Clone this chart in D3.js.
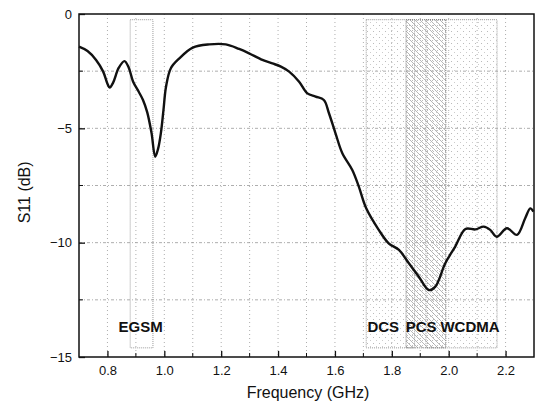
<!DOCTYPE html>
<html>
<head>
<meta charset="utf-8">
<script src="https://cdn.jsdelivr.net/npm/d3@7"></script>
<style>
  body { margin: 0; background: #fff; }
  text { font-family: Arial, "Liberation Sans", sans-serif; }
</style>
</head>
<body>
<div id="chart"></div>
<script>
// measured S11 curve
var freq = [0.70, 0.73, 0.76, 0.785, 0.80, 0.808, 0.82, 0.84, 0.86, 0.875, 0.89, 0.91, 0.925, 0.94, 0.955, 0.968,
  0.978, 0.988, 0.997, 1.006, 1.023, 1.053, 1.10, 1.158, 1.216, 1.263, 1.298, 1.345, 1.38, 1.41, 1.439, 1.474,
  1.503, 1.532, 1.561, 1.579, 1.602, 1.626, 1.661, 1.684, 1.71, 1.754, 1.789, 1.825, 1.86, 1.895, 1.93, 1.953,
  1.988, 2.023, 2.059, 2.094, 2.123, 2.146, 2.169, 2.205, 2.24, 2.269, 2.287, 2.298];
var s11 = [-1.43, -1.62, -2.01, -2.52, -3.05, -3.22, -3.0, -2.35, -2.06, -2.35, -2.95, -3.4, -3.76, -4.3, -5.2, -6.24,
  -5.9, -5.2, -4.2, -3.18, -2.37, -1.94, -1.47, -1.33, -1.33, -1.53, -1.72, -2.01, -2.16, -2.3, -2.52, -2.96,
  -3.47, -3.61, -3.76, -4.34, -5.22, -6.09, -6.82, -7.55, -8.5, -9.44, -10.03, -10.32, -10.9, -11.49, -12.07, -11.92,
  -10.9, -10.17, -9.4, -9.42, -9.3, -9.44, -9.74, -9.37, -9.66, -8.93, -8.5, -8.64];

// frequency bands (GHz)
var bandNames = ["EGSM", "DCS", "WCDMA", "PCS"];
var bandStart = [0.88, 1.71, 1.92, 1.85];
var bandEnd = [0.96, 1.88, 2.17, 1.99];

var xTicks = [0.8, 1.0, 1.2, 1.4, 1.6, 1.8, 2.0, 2.2];
var xMinorTicks = [0.8, 0.9, 1.0, 1.1, 1.2, 1.3, 1.4, 1.5, 1.6, 1.7, 1.8, 1.9, 2.0, 2.1, 2.2];
var yTicks = [0, -5, -10, -15];
var yMinorTicks = [-2.5, -7.5, -12.5];

var width = 543, height = 405;
var margin = { top: 14, right: 9, bottom: 48, left: 79 };

var svg = d3.select("#chart").append("svg")
    .attr("width", width)
    .attr("height", height);

var x = d3.scaleLinear().domain([0.7, 2.3]).range([margin.left, width - margin.right]);
var y = d3.scaleLinear().domain([-15, 0]).range([height - margin.bottom, margin.top]);

var defs = svg.append("defs");

// light stipple for DCS / WCDMA
var dots = defs.append("pattern")
    .attr("id", "dots")
    .attr("patternUnits", "userSpaceOnUse")
    .attr("width", 6).attr("height", 6);
dots.append("rect").attr("x", 1).attr("y", 1).attr("width", 1).attr("height", 1).attr("fill", "#bbb");
dots.append("rect").attr("x", 4).attr("y", 4).attr("width", 1).attr("height", 1).attr("fill", "#ccc");

// diagonal hatch for PCS
var hatch = defs.append("pattern")
    .attr("id", "hatch")
    .attr("patternUnits", "userSpaceOnUse")
    .attr("width", 5).attr("height", 5);
hatch.append("rect").attr("x", 2).attr("y", 0).attr("width", 1).attr("height", 1).attr("fill", "#bbb");
hatch.append("path")
    .attr("d", "M0,0 L5,5 M-1,4 L1,6 M4,-1 L6,1")
    .attr("stroke", "#999")
    .attr("stroke-width", 0.7);

// grid
svg.append("g").selectAll("line")
    .data(xMinorTicks)
    .enter().append("line")
    .attr("x1", d => x(d)).attr("x2", d => x(d))
    .attr("y1", y(0)).attr("y2", y(-15))
    .attr("stroke", "#999")
    .attr("stroke-width", 0.8)
    .attr("stroke-dasharray", "1,3");

svg.append("g").selectAll("line")
    .data([-2.5, -5, -7.5, -10, -12.5])
    .enter().append("line")
    .attr("x1", x(0.7)).attr("x2", x(2.3))
    .attr("y1", d => y(d)).attr("y2", d => y(d))
    .attr("stroke", "#999")
    .attr("stroke-width", 0.8)
    .attr("stroke-dasharray", "3,2,1,2");

// band boxes
var bands = bandNames.map(function (n, i) {
    return { name: n, start: bandStart[i], end: bandEnd[i] };
});

svg.append("g").selectAll("rect")
    .data(bands)
    .enter().append("rect")
    .attr("x", d => x(d.start))
    .attr("width", d => x(d.end) - x(d.start))
    .attr("y", y(-0.25))
    .attr("height", y(-14.6) - y(-0.25))
    .attr("fill", function (d) {
        if (d.name == "PCS") return "url(#hatch)";
        if (d.name == "EGSM") return "none";
        return "url(#dots)";
    })
    .attr("stroke", d => d.name == "PCS" ? "#777" : "#999")
    .attr("stroke-width", 1)
    .attr("stroke-dasharray", "1,1");

// curve
var points = freq.map(function (f, i) { return [f, s11[i]]; });
var line = d3.line()
    .x(d => x(d[0]))
    .y(d => y(d[1]))
    .curve(d3.curveCatmullRom);

svg.append("path")
    .datum(points)
    .attr("d", line)
    .attr("fill", "none")
    .attr("stroke", "#111")
    .attr("stroke-width", 2.4);

// band labels
var labelPos = { "EGSM": 0.917, "DCS": 1.77, "PCS": 1.903, "WCDMA": 2.075 };
svg.append("g").selectAll("text")
    .data(bands)
    .enter().append("text")
    .attr("x", d => x(labelPos[d.name]))
    .attr("y", y(-13.9))
    .attr("text-anchor", "middle")
    .attr("font-size", 15)
    .attr("font-weight", "bold")
    .attr("fill", "#111")
    .text(d => d.name);

// frame
svg.append("rect")
    .attr("x", x(0.7)).attr("y", y(0))
    .attr("width", x(2.3) - x(0.7))
    .attr("height", y(-15) - y(0))
    .attr("fill", "none")
    .attr("stroke", "#111")
    .attr("stroke-width", 1.5);

// axes with inward ticks
var xAxis = svg.append("g")
    .attr("transform", "translate(0," + y(-15) + ")")
    .call(d3.axisBottom(x).tickValues(xTicks).tickFormat(d3.format(".1f")).tickSizeInner(-6).tickSizeOuter(0).tickPadding(9));
xAxis.select(".domain").remove();
xAxis.selectAll("text").attr("font-size", 13).attr("fill", "#111").style("font-family", "Arial, 'Liberation Sans', sans-serif");
xAxis.selectAll("line").attr("stroke", "#111").attr("stroke-width", 1.3);

svg.append("g").selectAll("line")
    .data(xMinorTicks.filter(d => xTicks.indexOf(d) < 0))
    .enter().append("line")
    .attr("x1", d => x(d)).attr("x2", d => x(d))
    .attr("y1", y(-15)).attr("y2", y(-15) - 4)
    .attr("stroke", "#111");

var yAxis = svg.append("g")
    .attr("transform", "translate(" + x(0.7) + ",0)")
    .call(d3.axisLeft(y).tickValues(yTicks).tickSizeInner(-6).tickSizeOuter(0).tickPadding(7));
yAxis.select(".domain").remove();
yAxis.selectAll("text").attr("font-size", 13).attr("fill", "#111").style("font-family", "Arial, 'Liberation Sans', sans-serif");
yAxis.selectAll("line").attr("stroke", "#111").attr("stroke-width", 1.3);

svg.append("g").selectAll("line")
    .data(yMinorTicks)
    .enter().append("line")
    .attr("x1", x(0.7)).attr("x2", x(0.7) + 4)
    .attr("y1", d => y(d)).attr("y2", d => y(d))
    .attr("stroke", "#111");

// axis titles
svg.append("text")
    .attr("x", 308)
    .attr("y", 398)
    .attr("text-anchor", "middle")
    .attr("font-size", 16)
    .attr("fill", "#111")
    .text("Frequency (GHz)");

svg.append("text")
    .attr("transform", "translate(30," + y(-7.8) + ") rotate(-90)")
    .attr("text-anchor", "middle")
    .attr("font-size", 16)
    .attr("fill", "#111")
    .text("S11 (dB)");
</script>
</body>
</html>
